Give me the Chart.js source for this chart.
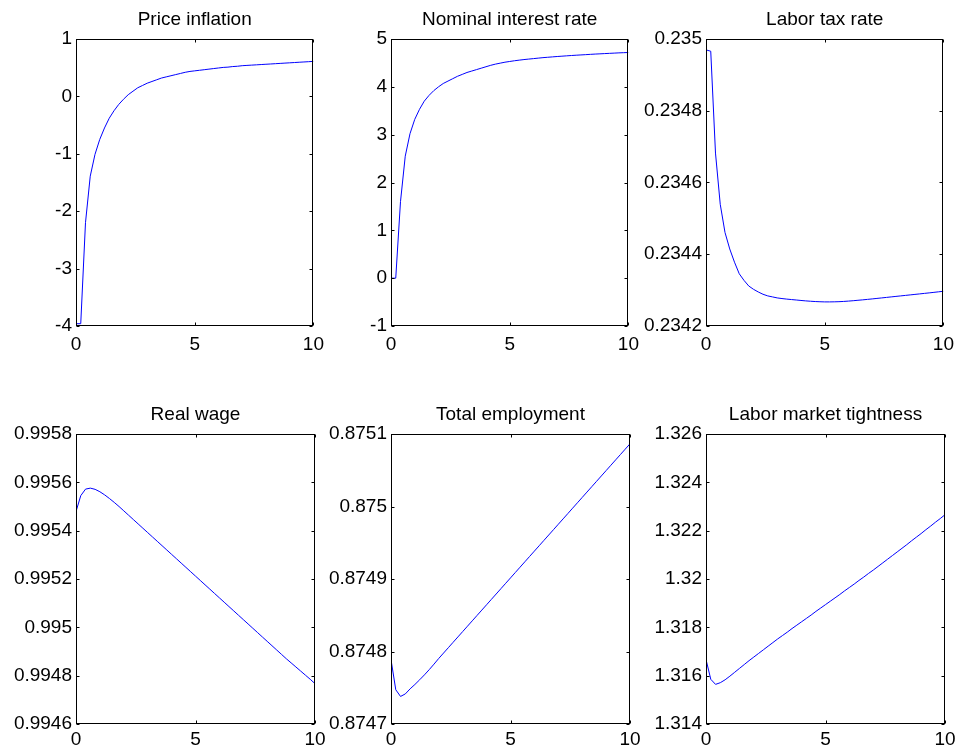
<!DOCTYPE html>
<html>
<head>
<meta charset="utf-8">
<title>Impulse responses</title>
<script src="https://cdn.jsdelivr.net/npm/chart.js@4.4.1/dist/chart.umd.min.js"></script>
<style>
  html, body { margin: 0; padding: 0; background: #ffffff; }
  #fig { position: relative; width: 960px; height: 753px; overflow: hidden; background: #ffffff; }
  #fig canvas { position: absolute; }
</style>
</head>
<body>
<div id="fig"></div>
<script>
// Horizon (years)
const years = [0, 0.2, 0.4, 0.6, 0.8, 1, 1.2, 1.4, 1.6, 1.8, 2, 2.2, 2.4, 2.6, 2.8, 3, 3.2, 3.4, 3.6, 3.8,
  4, 4.2, 4.4, 4.6, 4.8, 5, 5.2, 5.4, 5.6, 5.8, 6, 6.2, 6.4, 6.6, 6.8, 7, 7.2, 7.4, 7.6, 7.8,
  8, 8.2, 8.4, 8.6, 8.8, 9, 9.2, 9.4, 9.6, 9.8, 10];

const priceInflation = [-3.96, -3.96, -2.20, -1.39, -1.01, -0.75, -0.55, -0.38, -0.25, -0.14,
  -0.05, 0.03, 0.09, 0.15, 0.19, 0.23, 0.26, 0.29, 0.32, 0.34,
  0.36, 0.38, 0.40, 0.42, 0.435, 0.445, 0.455, 0.465, 0.475, 0.485,
  0.495, 0.505, 0.51, 0.52, 0.525, 0.535, 0.54, 0.545, 0.55, 0.555,
  0.56, 0.565, 0.57, 0.575, 0.58, 0.585, 0.59, 0.595, 0.60, 0.605, 0.61];

const nominalRate = [0, 0, 1.6, 2.55, 3.02, 3.32, 3.53, 3.70, 3.82, 3.92,
  4.0, 4.07, 4.12, 4.17, 4.22, 4.26, 4.30, 4.33, 4.36, 4.39,
  4.42, 4.45, 4.475, 4.495, 4.515, 4.53, 4.545, 4.558, 4.57, 4.58,
  4.59, 4.6, 4.61, 4.618, 4.626, 4.634, 4.641, 4.648, 4.655, 4.661,
  4.667, 4.673, 4.679, 4.685, 4.69, 4.695, 4.7, 4.705, 4.71, 4.714, 4.718];

const laborTax = [0.2349696, 0.2349659, 0.2346820, 0.2345392, 0.2344608, 0.2344147, 0.2343779, 0.2343456, 0.2343272, 0.2343115,
  0.2343023, 0.2342949, 0.2342885, 0.2342839, 0.2342811, 0.2342783, 0.2342765, 0.2342750, 0.2342737, 0.2342725,
  0.2342712, 0.2342700, 0.2342690, 0.2342682, 0.2342676, 0.2342672, 0.2342672, 0.2342674, 0.2342678, 0.2342685,
  0.2342694, 0.2342705, 0.2342717, 0.2342729, 0.2342742, 0.2342755, 0.2342769, 0.2342783, 0.2342797, 0.2342811,
  0.2342825, 0.2342839, 0.2342853, 0.2342867, 0.2342881, 0.2342895, 0.2342909, 0.2342923, 0.2342938, 0.2342953, 0.2342968];

const realWage = [0.995479, 0.995545, 0.995572, 0.995576, 0.995571, 0.995561, 0.995548, 0.995533, 0.995517, 0.995500,
  0.995482, 0.995464, 0.995446, 0.995428, 0.995410, 0.995392, 0.995374, 0.995356, 0.995338, 0.995320,
  0.995302, 0.995284, 0.995266, 0.995248, 0.995230, 0.995212, 0.995194, 0.995176, 0.995158, 0.995140,
  0.995122, 0.995104, 0.995086, 0.995068, 0.995050, 0.995032, 0.995014, 0.994996, 0.994978, 0.994960,
  0.994942, 0.994924, 0.994906, 0.994888, 0.994870, 0.994853, 0.994836, 0.994819, 0.994802, 0.994785, 0.994767];

const employment = [0.8747889, 0.8747472, 0.8747380, 0.8747415, 0.8747485, 0.8747545, 0.8747610, 0.8747678, 0.8747750, 0.8747826,
  0.8747905, 0.8747979, 0.8748053, 0.8748127, 0.8748201, 0.8748275, 0.8748349, 0.8748423, 0.8748497, 0.8748571,
  0.8748645, 0.8748719, 0.8748793, 0.8748867, 0.8748941, 0.8749015, 0.8749089, 0.8749163, 0.8749237, 0.8749311,
  0.8749385, 0.8749459, 0.8749533, 0.8749607, 0.8749681, 0.8749755, 0.8749829, 0.8749903, 0.8749977, 0.8750051,
  0.8750125, 0.8750199, 0.8750273, 0.8750347, 0.8750421, 0.8750495, 0.8750569, 0.8750643, 0.8750717, 0.8750791, 0.8750865];

const tightness = [1.31667, 1.31585, 1.31564, 1.31571, 1.31583, 1.31598, 1.31614, 1.31630, 1.31646, 1.31662,
  1.31677, 1.31692, 1.31707, 1.31722, 1.31737, 1.31752, 1.31766, 1.31780, 1.31795, 1.31809,
  1.31823, 1.31837, 1.31851, 1.31866, 1.31880, 1.31894, 1.31908, 1.31922, 1.31936, 1.31951,
  1.31965, 1.31979, 1.31994, 1.32008, 1.32023, 1.32037, 1.32052, 1.32067, 1.32082, 1.32097,
  1.32112, 1.32127, 1.32142, 1.32158, 1.32173, 1.32188, 1.32204, 1.32219, 1.32235, 1.32250, 1.32266];

// Tick values
const xTicks = [0, 5, 10];
const inflationTicks = [-4, -3, -2, -1, 0, 1];
const rateTicks = [-1, 0, 1, 2, 3, 4, 5];
const taxTicks = [0.2342, 0.2344, 0.2346, 0.2348, 0.235];
const wageTicks = [0.9946, 0.9948, 0.995, 0.9952, 0.9954, 0.9956, 0.9958];
const employmentTicks = [0.8747, 0.8748, 0.8749, 0.875, 0.8751];
const tightnessTicks = [1.314, 1.316, 1.318, 1.32, 1.322, 1.324, 1.326];

const titles = ['Price inflation', 'Nominal interest rate', 'Labor tax rate',
  'Real wage', 'Total employment', 'Labor market tightness'];

// ---------------------------------------------------------------------------
const FONT = "'Liberation Sans', Arial, Helvetica, sans-serif";
const FONT_SIZE = 19;
Chart.defaults.font.family = FONT;
Chart.defaults.font.size = FONT_SIZE;
Chart.defaults.color = '#000000';

const PAD_L = 76, PAD_T = 39, PAD_R = 16, PAD_B = 34;
const TICK_LEN = 3;

// Subplot layout: axes boxes in page pixels
const panels = [
  { title: titles[0], series: priceInflation, ticks: inflationTicks, box: { l: 76,  t: 39,  w: 239, h: 287 }, xPad: 7 },
  { title: titles[1], series: nominalRate,    ticks: rateTicks,      box: { l: 391, t: 39,  w: 239, h: 287 }, xPad: 7 },
  { title: titles[2], series: laborTax,       ticks: taxTicks,       box: { l: 706, t: 39,  w: 239, h: 287 }, xPad: 7 },
  { title: titles[3], series: realWage,       ticks: wageTicks,      box: { l: 76,  t: 434, w: 239, h: 290 }, xPad: 4 },
  { title: titles[4], series: employment,     ticks: employmentTicks, box: { l: 391, t: 434, w: 239, h: 290 }, xPad: 4 },
  { title: titles[5], series: tightness,      ticks: tightnessTicks, box: { l: 706, t: 434, w: 239, h: 290 }, xPad: 4 }
];

const fmt = v => String(parseFloat(Number(v).toPrecision(8)));

// Axes box, inward tick marks and the subplot title
const axesFrame = {
  id: 'axesFrame',
  afterDraw(chart, args, opts) {
    const { ctx, chartArea: a, scales } = chart;
    const L = Math.round(a.left) + 0.5, R = Math.round(a.right) - 0.5;
    const T = Math.round(a.top) + 0.5, B = Math.round(a.bottom) - 0.5;
    ctx.save();
    ctx.strokeStyle = '#000000';
    ctx.lineWidth = 1;
    ctx.beginPath();
    scales.y.ticks.forEach(t => {
      const y = Math.round(scales.y.getPixelForValue(t.value)) + 0.5;
      ctx.moveTo(L, y); ctx.lineTo(L + TICK_LEN, y);
      ctx.moveTo(R, y); ctx.lineTo(R - TICK_LEN, y);
    });
    scales.x.ticks.forEach(t => {
      const x = Math.round(scales.x.getPixelForValue(t.value)) + 0.5;
      ctx.moveTo(x, B); ctx.lineTo(x, B - TICK_LEN);
      ctx.moveTo(x, T); ctx.lineTo(x, T + TICK_LEN);
    });
    ctx.stroke();
    ctx.strokeRect(L, T, R - L, B - T);
    ctx.fillStyle = '#000000';
    ctx.font = FONT_SIZE + 'px ' + FONT;
    ctx.textAlign = 'center';
    ctx.textBaseline = 'alphabetic';
    ctx.fillText(opts.text, (a.left + a.right) / 2, a.top - 14.5);
    ctx.restore();
  }
};

const fig = document.getElementById('fig');
panels.forEach(p => {
  const cv = document.createElement('canvas');
  const W = p.box.w + PAD_L + PAD_R, H = p.box.h + PAD_T + PAD_B;
  cv.width = W; cv.height = H;
  cv.style.width = W + 'px'; cv.style.height = H + 'px';
  cv.style.left = (p.box.l - PAD_L) + 'px';
  cv.style.top = (p.box.t - PAD_T) + 'px';
  fig.appendChild(cv);

  const yMin = p.ticks[0], yMax = p.ticks[p.ticks.length - 1];
  new Chart(cv, {
    type: 'line',
    data: {
      datasets: [{
        data: years.map((t, i) => ({ x: t, y: p.series[i] })),
        borderColor: '#0000ff',
        borderWidth: 1,
        pointRadius: 0,
        tension: 0,
        fill: false
      }]
    },
    options: {
      responsive: false,
      animation: false,
      devicePixelRatio: 1,
      layout: { padding: { left: 0, right: PAD_R, top: PAD_T, bottom: 0 } },
      plugins: {
        legend: { display: false },
        tooltip: { enabled: false },
        axesFrame: { text: p.title }
      },
      scales: {
        x: {
          type: 'linear', min: 0, max: 10,
          afterBuildTicks: s => { s.ticks = xTicks.map(v => ({ value: v })); },
          afterFit: s => { s.height = PAD_B; },
          grid: { display: false, drawTicks: false },
          border: { display: false },
          ticks: { padding: p.xPad, maxRotation: 0, autoSkip: false, callback: v => fmt(v) }
        },
        y: {
          type: 'linear', min: yMin, max: yMax,
          afterBuildTicks: s => { s.ticks = p.ticks.map(v => ({ value: v })); },
          afterFit: s => { s.width = PAD_L; },
          grid: { display: false, drawTicks: false },
          border: { display: false },
          ticks: { padding: 4, autoSkip: false, callback: v => fmt(v) }
        }
      }
    },
    plugins: [axesFrame]
  });
});
</script>
</body>
</html>
